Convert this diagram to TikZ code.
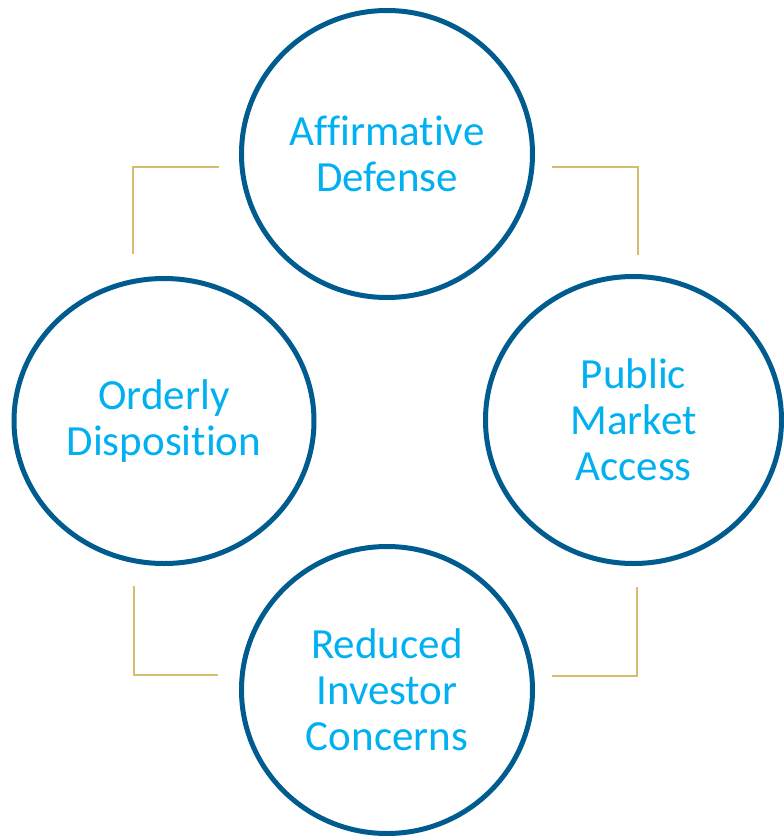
\documentclass[tikz,border=0pt]{standalone}
\usepackage{fontspec}
\setmainfont{Carlito}[RawFeature={-liga;-clig;-dlig}]
\usetikzlibrary{shapes.geometric}
\definecolor{ringblue}{HTML}{005C8F}
\definecolor{txtblue}{HTML}{00B0F0}
\definecolor{gold}{HTML}{D5BC6E}
\begin{document}
\begin{tikzpicture}[x=1pt,y=-1pt,
  ring/.style={ellipse,draw=ringblue,line width=5pt,inner sep=0pt,
    text=txtblue,align=center,
    font=\fontsize{43}{46}\selectfont},
  bracket/.style={draw=gold,line width=2pt}]
\useasboundingbox (0,0) rectangle (784,836);
\node[ring,minimum width=291pt,minimum height=287pt] (top) at (387,154) {Affirmative\\Defense};
\node[ring,minimum width=300pt,minimum height=285pt] (left) at (164,421) {Orderly\\Disposition\vphantom{y}};
\node[ring,minimum width=296pt,minimum height=287pt] (right) at (633.5,420) {Public\\Market\\Access};
\node[ring,minimum width=291pt,minimum height=287pt] (bottom) at (387,690) {Reduced\\Investor\\Concerns};
% brackets
\coordinate (tl1) at (219,167); \coordinate (tl2) at (133,167); \coordinate (tl3) at (133,254);
\coordinate (tr1) at (552,167); \coordinate (tr2) at (638,167); \coordinate (tr3) at (638,255);
\coordinate (bl1) at (134,586); \coordinate (bl2) at (134,675); \coordinate (bl3) at (218,675);
\coordinate (br1) at (637,587); \coordinate (br2) at (637,676); \coordinate (br3) at (552,676);
\draw[bracket] (tl1) -- (tl2) -- (tl3);
\draw[bracket] (tr1) -- (tr2) -- (tr3);
\draw[bracket] (bl1) -- (bl2) -- (bl3);
\draw[bracket] (br1) -- (br2) -- (br3);
\end{tikzpicture}
\end{document}
